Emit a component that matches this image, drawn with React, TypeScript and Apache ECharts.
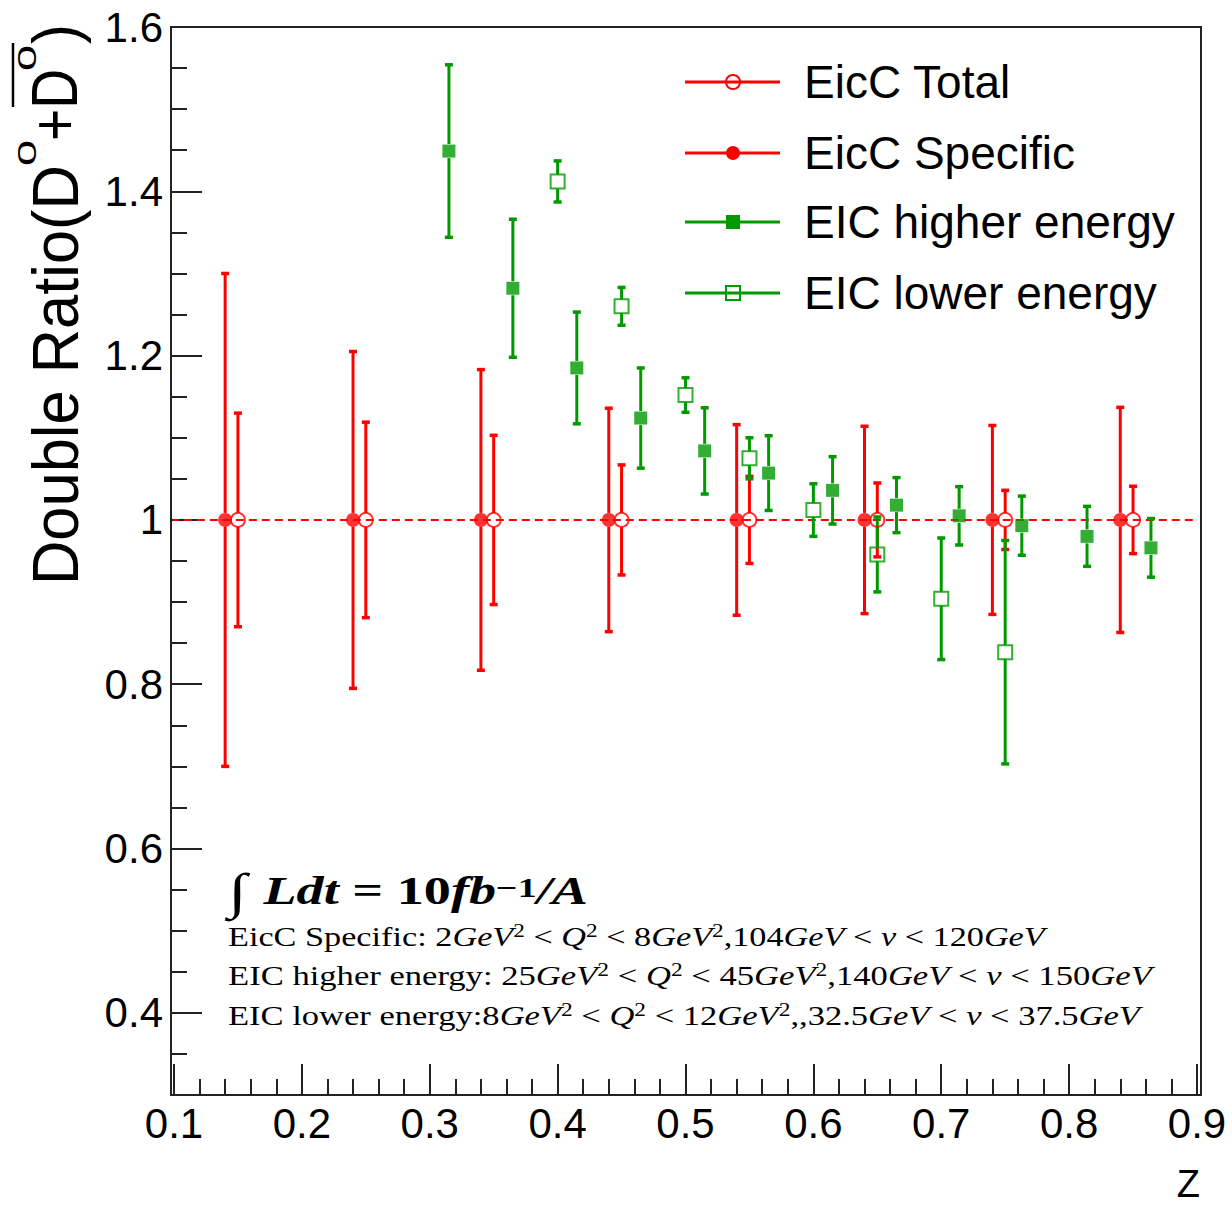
import React, { useEffect, useRef } from 'react';
import * as echarts from 'echarts';

// ---------------- data ----------------
const eiccTotalZ = [0.15, 0.25, 0.35, 0.45, 0.55, 0.65, 0.75, 0.85];
const eiccTotalRatio = [1, 1, 1, 1, 1, 1, 1, 1];
const eiccTotalErr = [0.13, 0.119, 0.103, 0.067, 0.053, 0.045, 0.036, 0.041];

const eiccSpecificZ = [0.14, 0.24, 0.34, 0.44, 0.54, 0.64, 0.74, 0.84];
const eiccSpecificRatio = [1, 1, 1, 1, 1, 1, 1, 1];
const eiccSpecificErr = [0.3, 0.205, 0.183, 0.136, 0.116, 0.114, 0.115, 0.137];

const eicHigherZ = [0.315, 0.365, 0.415, 0.465, 0.515, 0.565, 0.615, 0.665, 0.714, 0.763, 0.814, 0.864];
const eicHigherRatio = [1.449, 1.282, 1.185, 1.124, 1.084, 1.057, 1.036, 1.018, 1.005, 0.993, 0.98, 0.966];
const eicHigherErr = [0.105, 0.084, 0.068, 0.061, 0.0525, 0.0455, 0.041, 0.0335, 0.0355, 0.036, 0.0365, 0.0357];

const eicLowerZ = [0.4, 0.45, 0.5, 0.55, 0.6, 0.65, 0.7, 0.75];
const eicLowerRatio = [1.412, 1.26, 1.152, 1.075, 1.012, 0.958, 0.904, 0.839];
const eicLowerErr = [0.025, 0.023, 0.021, 0.025, 0.032, 0.0456, 0.074, 0.136];

const unityLineZ = [0.0975, 0.9031];
const unityLineRatio = [1, 1];

const xRange = [0.1, 0.9];
const yRange = [0.3, 1.6];

const legendNames = ['EicC Total', 'EicC Specific', 'EIC higher energy', 'EIC lower energy'];
const xAxisTitle = 'Z';

// ---------------- styles ----------------
const RED = '#ff0000';
const GREEN = '#009900';
const INK = '#000000';
const FRAME = '#222222';
const SANS = "'Liberation Sans', Arial, Helvetica, sans-serif";
const SERIF = "'Liberation Serif', 'Times New Roman', serif";

let measureCtx: CanvasRenderingContext2D | null = null;
function textWidth(text: string, font: string): number {
  if (!measureCtx) measureCtx = document.createElement('canvas').getContext('2d');
  if (!measureCtx) return text.length * 12;
  measureCtx.font = font;
  return measureCtx.measureText(text).width;
}
function fontOf(s: any) {
  return `${s.fontStyle || 'normal'} ${s.fontWeight || 'normal'} ${s.fontSize}px ${s.fontFamily}`;
}
type Tok = [string, string];
function buildRich(tokens: Tok[], styles: Record<string, any>) {
  let w = 0;
  for (const [k, t] of tokens) w += textWidth(t, fontOf(styles[k]));
  return { text: tokens.map(([k, t]) => `{${k}|${t}}`).join(''), width: w };
}

const zip = (a: number[], b: number[], c?: number[]) =>
  a.map((x, i) => (c ? [x, b[i], c[i]] : [x, b[i]]));

function errorBars(name: string, z: number[], v: number[], e: number[], color: string) {
  return {
    type: 'custom',
    name,
    silent: true,
    z: 3,
    data: zip(z, v, e),
    encode: { x: 0, y: 1 },
    renderItem: (_p: any, api: any) => {
      const x = api.value(0);
      const y = api.value(1);
      const err = api.value(2);
      const c = api.coord([x, y]);
      const t = api.coord([x, y + err]);
      const b = api.coord([x, y - err]);
      const gap = 7;
      const cap = 4;
      const st = { stroke: color, lineWidth: 3 };
      const children: any[] = [];
      if (c[1] - gap > t[1]) children.push({ type: 'line', shape: { x1: c[0], y1: t[1], x2: c[0], y2: c[1] - gap }, style: st });
      if (b[1] > c[1] + gap) children.push({ type: 'line', shape: { x1: c[0], y1: c[1] + gap, x2: c[0], y2: b[1] }, style: st });
      children.push({ type: 'line', shape: { x1: c[0] - cap, y1: t[1], x2: c[0] + cap, y2: t[1] }, style: { stroke: color, lineWidth: 3.5 } });
      children.push({ type: 'line', shape: { x1: c[0] - cap, y1: b[1], x2: c[0] + cap, y2: b[1] }, style: { stroke: color, lineWidth: 3.5 } });
      return { type: 'group', children };
    },
  };
}

function markers(name: string, z: number[], v: number[], symbol: string, size: number, color: string, hollow: boolean) {
  return {
    type: 'scatter',
    name,
    silent: true,
    z: 5,
    symbol,
    symbolSize: size,
    data: zip(z, v),
    itemStyle: hollow
      ? { color: 'rgba(255,255,255,0)', borderColor: color, borderWidth: 2 }
      : { color, borderColor: color, borderWidth: 0 },
  };
}

function buildGraphics() {
  const g: any[] = [];
  // frame
  g.push({
    type: 'rect', silent: true, z: 10,
    shape: { x: 171, y: 27, width: 1030, height: 1068 },
    style: { fill: 'none', stroke: FRAME, lineWidth: 2 },
  });

  // y-axis title, rotated
  const titleParts = [
    { text: 'Double Ratio(D', size: 60, start: 0, len: 420, cy: 0, sy: 1.08 },
    { text: '0', size: 40, start: 419, len: 26, cy: -28, sy: 0.66 },
    { text: '+D', size: 60, start: 444, len: 72, cy: 0, sy: 1.08 },
    { text: '0', size: 40, start: 514, len: 26, cy: -28, sy: 0.66 },
    { text: ')', size: 60, start: 541, len: 20, cy: 0, sy: 1.08 },
  ];
  const children: any[] = titleParts.map((p) => {
    const w = textWidth(p.text, `normal normal ${p.size}px ${SANS}`);
    return {
      type: 'text', x: p.start, y: p.cy, scaleX: p.len / w, scaleY: p.sy,
      style: { text: p.text, fontSize: p.size, fontFamily: SANS, fill: INK, align: 'left', textAlign: 'left', verticalAlign: 'middle', textVerticalAlign: 'middle' },
    };
  });
  children.push({ type: 'line', shape: { x1: 478, y1: -42, x2: 542, y2: -42 }, style: { stroke: INK, lineWidth: 2.5 } });
  g.push({ type: 'group', x: 55, y: 585, rotation: Math.PI / 2, silent: true, children });

  // x-axis title
  g.push({
    type: 'text', x: 1200, y: 1184, silent: true,
    style: { text: xAxisTitle, fontSize: 38, fontFamily: SANS, fill: INK, align: 'right', textAlign: 'right', verticalAlign: 'middle', textVerticalAlign: 'middle' },
  });

  // legend
  const rows = [82, 153, 222, 293];
  const legendColors = [RED, RED, GREEN, GREEN];
  legendNames.forEach((name, i) => {
    const y = rows[i];
    const col = legendColors[i];
    g.push({ type: 'line', silent: true, shape: { x1: 685, y1: y, x2: 780, y2: y }, style: { stroke: col, lineWidth: 3 } });
    if (i === 0) g.push({ type: 'circle', silent: true, shape: { cx: 733, cy: y, r: 7 }, style: { fill: 'none', stroke: col, lineWidth: 2 } });
    if (i === 1) g.push({ type: 'circle', silent: true, shape: { cx: 733, cy: y, r: 7 }, style: { fill: col, stroke: col, lineWidth: 0 } });
    if (i === 2) g.push({ type: 'rect', silent: true, shape: { x: 726, y: y - 7, width: 14, height: 14 }, style: { fill: col, stroke: col, lineWidth: 0 } });
    if (i === 3) g.push({ type: 'rect', silent: true, shape: { x: 726, y: y - 7, width: 14, height: 14 }, style: { fill: 'none', stroke: col, lineWidth: 2 } });
    g.push({
      type: 'text', x: 804, y, silent: true,
      style: { text: name, fontSize: 46, fontFamily: SANS, fill: INK, align: 'left', textAlign: 'left', verticalAlign: 'middle', textVerticalAlign: 'middle' },
    });
  });

  // annotation: luminosity line
  const bigStyles: Record<string, any> = {
    r: { fontFamily: SERIF, fontSize: 50, lineHeight: 36, fill: INK, color: INK },
    bi: { fontFamily: SERIF, fontSize: 40, fontStyle: 'italic', fontWeight: 'bold', lineHeight: 36, fill: INK, color: INK },
    b: { fontFamily: SERIF, fontSize: 40, fontWeight: 'bold', lineHeight: 36, fill: INK, color: INK },
    bs: { fontFamily: SERIF, fontSize: 28, fontWeight: 'bold', lineHeight: 28, verticalAlign: 'top', fill: INK, color: INK },
  };
  const lumTokens: Tok[] = [['r', '\u222B '], ['bi', 'Ldt'], ['b', ' = 10'], ['bi', 'fb'], ['bs', '\u22121'], ['bi', '/A']];
  const lum = buildRich(lumTokens, bigStyles);
  g.push({
    type: 'text', x: 228, y: 873, scaleX: 360 / lum.width, silent: true,
    style: { text: lum.text, rich: bigStyles, fill: INK, fontFamily: SERIF, fontSize: 40, align: 'left', textAlign: 'left', verticalAlign: 'top', textVerticalAlign: 'top' },
  });

  const smallStyles: Record<string, any> = {
    n: { fontFamily: SERIF, fontSize: 28, lineHeight: 32, fill: INK, color: INK },
    i: { fontFamily: SERIF, fontSize: 28, fontStyle: 'italic', lineHeight: 32, fill: INK, color: INK },
    s: { fontFamily: SERIF, fontSize: 19, lineHeight: 19, verticalAlign: 'top', fill: INK, color: INK },
  };
  const cutLines: { tokens: Tok[]; y: number; w: number }[] = [
    {
      y: 921, w: 817,
      tokens: [['n', 'EicC Specific: 2'], ['i', 'GeV'], ['s', '2'], ['n', ' < '], ['i', 'Q'], ['s', '2'], ['n', ' < 8'], ['i', 'GeV'], ['s', '2'], ['n', ',104'], ['i', 'GeV'], ['n', ' < '], ['i', '\u03BD'], ['n', ' < 120'], ['i', 'GeV']],
    },
    {
      y: 960, w: 924,
      tokens: [['n', 'EIC higher energy: 25'], ['i', 'GeV'], ['s', '2'], ['n', ' < '], ['i', 'Q'], ['s', '2'], ['n', ' < 45'], ['i', 'GeV'], ['s', '2'], ['n', ',140'], ['i', 'GeV'], ['n', ' < '], ['i', '\u03BD'], ['n', ' < 150'], ['i', 'GeV']],
    },
    {
      y: 1000, w: 912,
      tokens: [['n', 'EIC lower energy:8'], ['i', 'GeV'], ['s', '2'], ['n', ' < '], ['i', 'Q'], ['s', '2'], ['n', ' < 12'], ['i', 'GeV'], ['s', '2'], ['n', ',,32.5'], ['i', 'GeV'], ['n', ' < '], ['i', '\u03BD'], ['n', ' < 37.5'], ['i', 'GeV']],
    },
  ];
  cutLines.forEach((ln) => {
    const r = buildRich(ln.tokens, smallStyles);
    g.push({
      type: 'text', x: 228, y: ln.y, scaleX: ln.w / r.width, silent: true,
      style: { text: r.text, rich: smallStyles, fill: INK, fontFamily: SERIF, fontSize: 28, align: 'left', textAlign: 'left', verticalAlign: 'top', textVerticalAlign: 'top' },
    });
  });
  return g;
}

export default function App() {
  const ref = useRef<HTMLDivElement>(null);
  useEffect(() => {
    if (!ref.current) return;
    const chart = echarts.init(ref.current, undefined, { renderer: 'svg' });
    const tickStyle = { color: FRAME, width: 2 };
    const option: any = {
      animation: false,
      backgroundColor: '#ffffff',
      grid: { left: 174, right: 35, top: 27, bottom: 111, containLabel: false },
      xAxis: {
        type: 'value',
        min: xRange[0],
        max: xRange[1],
        interval: 0.1,
        axisLine: { show: false },
        axisTick: { show: true, inside: true, length: 31, lineStyle: tickStyle },
        minorTick: { show: true, splitNumber: 5, length: 16, lineStyle: tickStyle },
        axisLabel: { fontSize: 42, fontFamily: SANS, color: INK, margin: 7 },
        splitLine: { show: false },
        minorSplitLine: { show: false },
      },
      yAxis: [
        {
          type: 'value',
          min: yRange[0],
          max: yRange[1],
          splitNumber: 7,
          minInterval: 0.2,
          maxInterval: 0.2,
          offset: 3,
          axisLine: { show: false },
          axisTick: { show: true, inside: true, length: 31, lineStyle: tickStyle },
          axisLabel: { fontSize: 42, fontFamily: SANS, color: INK, margin: 8, showMinLabel: false },
          splitLine: { show: false },
        },
        {
          type: 'value',
          min: yRange[0],
          max: yRange[1],
          interval: 0.05,
          offset: 3,
          position: 'left',
          axisLine: { show: false },
          axisTick: { show: true, inside: true, length: 16, lineStyle: tickStyle },
          axisLabel: { show: false },
          splitLine: { show: false },
        },
      ],
      series: [
        {
          type: 'line',
          name: 'unity',
          silent: true,
          clip: false,
          z: 1,
          data: zip(unityLineZ, unityLineRatio),
          showSymbol: false,
          symbol: 'none',
          lineStyle: { color: RED, width: 2, type: [8, 5] },
        },
        errorBars(legendNames[0], eiccTotalZ, eiccTotalRatio, eiccTotalErr, RED),
        errorBars(legendNames[1], eiccSpecificZ, eiccSpecificRatio, eiccSpecificErr, RED),
        errorBars(legendNames[2], eicHigherZ, eicHigherRatio, eicHigherErr, GREEN),
        errorBars(legendNames[3], eicLowerZ, eicLowerRatio, eicLowerErr, GREEN),
        markers(legendNames[0], eiccTotalZ, eiccTotalRatio, 'circle', 14, RED, true),
        markers(legendNames[1], eiccSpecificZ, eiccSpecificRatio, 'circle', 14, RED, false),
        markers(legendNames[2], eicHigherZ, eicHigherRatio, 'rect', 13, GREEN, false),
        markers(legendNames[3], eicLowerZ, eicLowerRatio, 'rect', 14, GREEN, true),
      ],
      graphic: buildGraphics(),
    };
    chart.setOption(option);
    return () => chart.dispose();
  }, []);
  return (
    <div
      ref={ref}
      style={{ position: 'absolute', left: 0, top: 0, width: 1232, height: 1206, background: '#ffffff' }}
    />
  );
}
